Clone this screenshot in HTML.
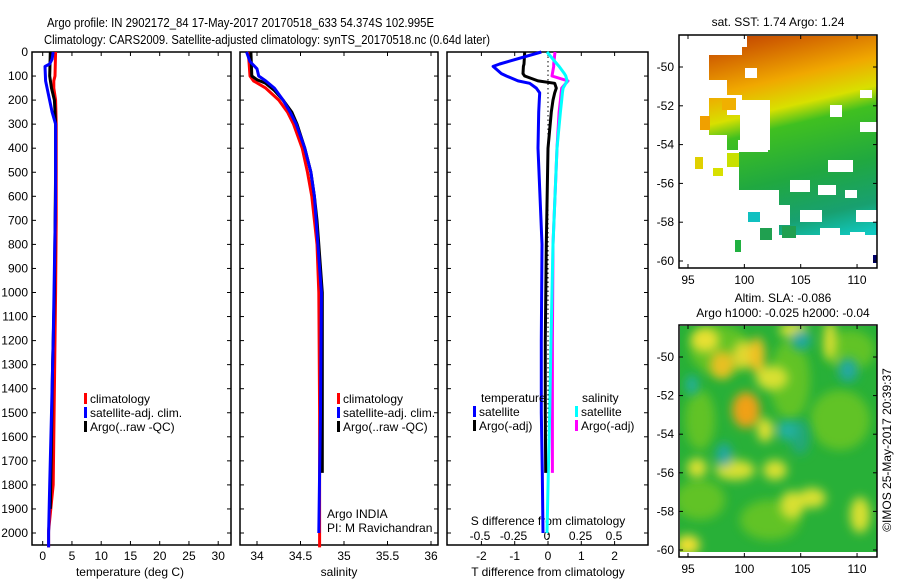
<!DOCTYPE html>
<html><head><meta charset="utf-8"><style>
body{margin:0;background:#fff;}
svg{display:block;font-family:"Liberation Sans",sans-serif;}
text{font-size:12px;fill:#000;}
</style></head><body>
<svg id="fig" width="900" height="580" viewBox="0 0 900 580">
<defs>
<linearGradient id="sstg" x1="0" y1="0" x2="0.2" y2="1">
<stop offset="0" stop-color="#b83000"/><stop offset="0.12" stop-color="#d06000"/>
<stop offset="0.28" stop-color="#f0a800"/><stop offset="0.4" stop-color="#d8e000"/>
<stop offset="0.48" stop-color="#40c020"/><stop offset="0.7" stop-color="#20a840"/>
<stop offset="0.88" stop-color="#18a070"/><stop offset="1" stop-color="#10c8c0"/>
</linearGradient>
<filter id="blur"><feGaussianBlur stdDeviation="5"/></filter>
<clipPath id="m2clip"><rect x="680" y="326" width="197" height="226"/></clipPath>
<clipPath id="m1clip"><rect x="680" y="36" width="197" height="231"/></clipPath>
</defs>
<text x="47" y="27" textLength="387" lengthAdjust="spacingAndGlyphs" style="font-size:13px">Argo profile: IN 2902172_84 17-May-2017 20170518_633 54.374S 102.995E</text>
<text x="44" y="44" textLength="446" lengthAdjust="spacingAndGlyphs" style="font-size:13px">Climatology: CARS2009. Satellite-adjusted climatology: synTS_20170518.nc (0.64d later)</text>
<g id="p1"></g>
<g id="p2"></g>
<g id="p3"></g>
<g id="map1"></g>
<g id="map2"></g>
<text transform="translate(891,450) rotate(-90)" text-anchor="middle">©IMOS 25-May-2017 20:39:37</text>
</svg>
<script>
// ---- data ----
const tDepthClim=[0,100,120,150,200,300,700,1000,1400,1800,1990,2060];
const tClim=[2.2,2.1,1.9,1.9,2.2,2.3,2.3,2.2,2.0,1.8,1.0,1.0];
const tDepthSat=[0,30,50,60,120,180,250,300,600,900,1200,1500,1800,2000,2060];
const tSat=[1.8,1.6,1.2,0.4,0.5,1.0,1.6,2.2,2.2,2.0,1.8,1.5,1.2,1.0,1.0];
const tDepthArgo=[0,100,150,200,300,500,1000,1300,1600,1900];
const tArgo=[1.3,1.2,1.5,2.0,2.2,2.2,2.0,1.7,1.5,1.3];
const sDepthClim=[0,100,120,150,200,250,300,400,500,600,700,800,1000,1500,2060];
const sClim=[33.90,33.92,33.96,34.1,34.25,34.35,34.42,34.52,34.58,34.63,34.66,34.69,34.71,34.72,34.72];
const sDepthArgo=[0,100,115,130,160,200,250,300,400,500,600,700,800,1000,1500,1750];
const sArgo=[33.93,33.94,34.0,34.1,34.2,34.3,34.4,34.46,34.55,34.62,34.66,34.69,34.71,34.75,34.75,34.75];
const sDepthSat=[0,40,70,100,120,150,200,250,300,400,500,600,800,1000,1500,1750,2000];
const sSat=[33.88,33.92,34.0,34.02,34.1,34.2,34.3,34.38,34.45,34.55,34.62,34.66,34.70,34.74,34.73,34.72,34.71];
const dDepth=[0,50,60,90,100,120,130,150,170,200,250,400,800,1200,1500,1750,2000];
const dTSat=[-0.2,-1.45,-1.65,-1.4,-1.25,-0.9,-0.55,-0.35,-0.25,-0.26,-0.28,-0.3,-0.18,-0.2,-0.2,-0.17,-0.15];
const dTArgo=[-0.7,-0.72,-0.74,-0.75,-0.7,-0.3,0.2,0.25,0.2,0.15,0.1,0.0,-0.05,-0.08,-0.08,-0.07,null];
const dSSat=[0.0,0.075,0.09,0.13,0.14,0.15,0.14,0.12,0.115,0.11,0.1,0.075,0.045,0.03,0.02,0.01,0.0];
const dSArgo=[0.06,0.05,0.05,0.04,0.037,0.157,0.14,0.11,0.105,0.1,0.09,0.075,0.045,0.04,0.04,0.04,null];
const depthTicks=[0,100,200,300,400,500,600,700,800,900,1000,1100,1200,1300,1400,1500,1600,1700,1800,1900,2000];
const tTicks=[0,5,10,15,20,25,30];
const sTicks=[34,34.5,35,35.5,36];
const dTTicks=[-2,-1,0,1,2];
const dSTicks=[-0.5,-0.25,0,0.25,0.5];
const latTicks=[-50,-52,-54,-56,-58,-60];
const lonTicks=[95,100,105,110];

// ---- scales ----
const yD=d=>52+d*0.2405;
const xT=t=>42.7+t*5.85;
const xS=s=>257+(s-34)*87;
const xdT=t=>548+t*33.3;
const xdS=s=>547+s*134;
const NS='http://www.w3.org/2000/svg';
function el(parent,tag,attrs,txt){const e=document.createElementNS(NS,tag);for(const k in attrs)e.setAttribute(k,attrs[k]);if(txt!==undefined)e.textContent=txt;parent.appendChild(e);return e;}
function line(g,xs,ds,xf,color,name,w){
  let pts=[];
  for(let i=0;i<xs.length;i++){if(xs[i]===null)break;pts.push(xf(xs[i]).toFixed(1)+','+yD(ds[i]).toFixed(1));}
  const p=el(g,'polyline',{points:pts.join(' '),fill:'none',stroke:color,'stroke-width':w||3,'stroke-linejoin':'round'});
  
  
}
function frame(g,x0,x1,name){
  const r=el(g,'rect',{x:x0,y:52,width:x1-x0,height:493,fill:'none',stroke:'#000','stroke-width':1.5});
  
  
  depthTicks.forEach(d=>{el(g,'line',{x1:x0,x2:x0+4,y1:yD(d),y2:yD(d),stroke:'#000'});el(g,'line',{x1:x1,x2:x1-4,y1:yD(d),y2:yD(d),stroke:'#000'});});
}
function xticks(g,vals,xf,y,labels){
  vals.forEach(v=>{const x=xf(v);el(g,'line',{x1:x,x2:x,y1:545,y2:541,stroke:'#000'});el(g,'line',{x1:x,x2:x,y1:52,y2:56,stroke:'#000'});
    if(labels){const t=el(g,'text',{x:x,y:y,'text-anchor':'middle'},String(v));}});
}
function legend(g,x,y,items){
  items.forEach((it,i)=>{el(g,'rect',{x:x,y:y+i*14-10,width:3,height:11,fill:it[0]});
    const t=el(g,'text',{x:x+6,y:y+i*14},it[1]);});
}
// panel 1
const p1=document.getElementById('p1');
frame(p1,32,231,'temperature-axes');
depthTicks.forEach(d=>{const t=el(p1,'text',{x:28,y:yD(d)+4,'text-anchor':'end'},String(d));});
xticks(p1,tTicks,xT,560,true);
let ax=el(p1,'text',{x:130,y:576,'text-anchor':'middle'},'temperature (deg C)');
line(p1,tClim,tDepthClim,xT,'#f00','temperature-climatology');
line(p1,tArgo,tDepthArgo,xT,'#000','temperature-argo');
line(p1,tSat,tDepthSat,xT,'#00f','temperature-satellite');
legend(p1,84,403,[['#f00','climatology'],['#00f','satellite-adj. clim.'],['#000','Argo(..raw -QC)']]);
// panel 2
const p2=document.getElementById('p2');
frame(p2,240,438,'salinity-axes');
xticks(p2,sTicks,xS,560,true);
ax=el(p2,'text',{x:339,y:576,'text-anchor':'middle'},'salinity');
line(p2,sClim,sDepthClim,xS,'#f00','salinity-climatology');
line(p2,sArgo,sDepthArgo,xS,'#000','salinity-argo');
line(p2,sSat,sDepthSat,xS,'#00f','salinity-satellite');
legend(p2,337,403,[['#f00','climatology'],['#00f','satellite-adj. clim.'],['#000','Argo(..raw -QC)']]);
let tx=el(p2,'text',{x:327,y:518},'Argo INDIA');
tx=el(p2,'text',{x:327,y:532},'PI: M Ravichandran');
// panel 3
const p3=document.getElementById('p3');
frame(p3,447,648,'difference-axes');
xticks(p3,dTTicks,xdT,560,true);
dSTicks.forEach(v=>{const t=el(p3,'text',{x:xdS(v),y:540,'text-anchor':'middle'},String(v));});
ax=el(p3,'text',{x:548,y:576,'text-anchor':'middle'},'T difference from climatology');
ax=el(p3,'text',{x:548,y:525,'text-anchor':'middle'},'S difference from climatology');
el(p3,'line',{x1:xdT(0),x2:xdT(0),y1:52,y2:545,stroke:'#000','stroke-dasharray':'1.5,3'});
line(p3,dSArgo,dDepth,xdS,'#f0f','salinity-diff-argo');
line(p3,dSSat,dDepth,xdS,'#0ff','salinity-diff-satellite');
line(p3,dTArgo,dDepth,xdT,'#000','temperature-diff-argo');
line(p3,dTSat,dDepth,xdT,'#00f','temperature-diff-satellite');
tx=el(p3,'text',{x:481,y:402},'temperature');
tx=el(p3,'text',{x:582,y:402},'salinity');
legend(p3,473,416,[['#00f','satellite'],['#000','Argo(-adj)']]);
legend(p3,575,416,[['#0ff','satellite'],['#f0f','Argo(-adj)']]);
// maps
const xL=l=>688+(l-95)*11.27;
function mapAxes(g,top,bottom,yLat,name){
  const r=el(g,'rect',{x:679,y:top,width:198,height:bottom-top,fill:'none',stroke:'#000','stroke-width':1.5});
  
  latTicks.forEach(l=>{const y=yLat(l);el(g,'line',{x1:679,x2:683,y1:y,y2:y,stroke:'#000'});el(g,'line',{x1:877,x2:873,y1:y,y2:y,stroke:'#000'});
    const t=el(g,'text',{x:674,y:y+4,'text-anchor':'end'},String(l));});
  lonTicks.forEach(l=>{const x=xL(l);el(g,'line',{x1:x,x2:x,y1:bottom,y2:bottom-4,stroke:'#000'});el(g,'line',{x1:x,x2:x,y1:top,y2:top+4,stroke:'#000'});
    const t=el(g,'text',{x:x,y:bottom+16,'text-anchor':'middle'},String(l));});
}
const m1=document.getElementById('map1');
const y1=l=>67+(-50-l)*19.4;
const mg=el(m1,'g',{'clip-path':'url(#m1clip)'});
el(mg,'rect',{x:679,y:35,width:198,height:233,fill:'url(#sstg)'});
// missing-data (white) areas
[[679,35,30,233],[709,35,33,20],[709,80,18,18],[740,35,7,12],[745,68,12,10],[727,95,15,20],[740,100,30,50],[709,150,30,40],[679,190,100,78],[770,205,20,20],[779,235,100,33],[790,180,20,12],[818,185,18,10],[845,190,12,8],[800,210,22,12],[856,210,21,12],[828,160,25,12],[860,122,17,10],[830,105,12,12],[738,140,30,12],[709,135,18,15],[820,228,20,8],[850,232,15,8],[860,90,12,8]].forEach(r=>el(mg,'rect',{x:r[0],y:r[1],width:r[2],height:r[3],fill:'#fff'}));
// small island patches
[[722,98,14,12,'#f0b000'],[700,116,10,14,'#f0a000'],[695,157,8,12,'#e0d000'],[727,153,12,14,'#c8e000'],[713,168,10,8,'#d8e000'],[748,212,12,10,'#10c0c0'],[735,240,6,12,'#20b040'],[782,226,14,12,'#20a050'],[760,228,12,12,'#20a050']].forEach(r=>el(mg,'rect',{x:r[0],y:r[1],width:r[2],height:r[3],fill:r[4]}));
el(mg,'rect',{x:873,y:255,width:4,height:8,fill:'#00006a'});
let tt=el(m1,'text',{x:778,y:26,'text-anchor':'middle'},'sat. SST: 1.74 Argo: 1.24');
mapAxes(m1,35,268,y1,'sst-map-axes');

const m2=document.getElementById('map2');
const y2=l=>357+(-50-l)*19.3;
const g2=el(m2,'g',{'clip-path':'url(#m2clip)'});
el(g2,'rect',{x:679,y:325,width:198,height:227,fill:'#28b038'});
const bg0=el(g2,'g',{filter:'url(#blur)',opacity:'0.8'});
[[720,350,30,25],[790,380,20,40],[840,420,30,30],[700,500,25,20],[770,520,30,20],[850,350,25,20],[700,420,15,30]].forEach(b=>el(bg0,'ellipse',{cx:b[0],cy:b[1],rx:b[2],ry:b[3],fill:'#70c820'}));
const blobs=[[705,340,14,12,'#e8e030'],[722,365,12,14,'#e8c020'],[743,355,10,14,'#e0d830'],[757,355,8,18,'#f0c020'],[772,378,16,12,'#d8e030'],[746,410,14,18,'#f0a018'],[765,430,8,12,'#e0e030'],[793,330,14,8,'#d8e030'],[830,340,6,20,'#e0e030'],[697,468,10,10,'#d8e030'],[735,470,20,10,'#d8e030'],[775,470,12,10,'#d8e030'],[792,505,12,14,'#d8e030'],[812,498,14,10,'#d8e030'],[688,545,12,10,'#f0e030'],[800,437,10,18,'#20a878'],[787,430,10,10,'#20b0a0'],[692,385,6,10,'#20b0a0'],[724,455,8,12,'#20a8a0'],[801,340,10,10,'#20a8a0'],[848,370,10,12,'#20a8a0'],[860,515,10,18,'#d8e030']];
const bg=el(g2,'g',{filter:'url(#blur)'});
blobs.forEach(b=>el(bg,'ellipse',{cx:b[0],cy:b[1],rx:b[2],ry:b[3],fill:b[4]}));
el(m2,'rect',{x:680,y:552,width:196,height:5,fill:'#fff'});
tt=el(m2,'text',{x:783,y:302,'text-anchor':'middle'},'Altim. SLA: -0.086');
tt=el(m2,'text',{x:783,y:317,'text-anchor':'middle'},'Argo h1000: -0.025 h2000: -0.04');
mapAxes(m2,325,557,y2,'sla-map-axes');
</script>
</body></html>
